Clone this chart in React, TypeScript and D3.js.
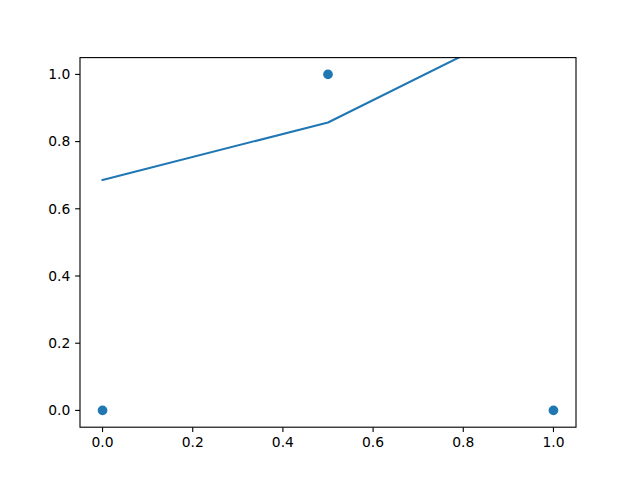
import React from "react";
import * as d3 from "d3";

const pointX = [0, 0.5, 1];
const pointY = [0, 1, 0];
const lineX = [0, 0.5, 1];
const lineY = [0.686, 0.857, 1.19];
const xTicks = [0, 0.2, 0.4, 0.6, 0.8, 1.0];
const yTicks = [0, 0.2, 0.4, 0.6, 0.8, 1.0];

const W = 640, H = 480;
const L = 80, R = 576, T = 57.6, B = 427.2;

export default function App() {
  const x = d3.scaleLinear().domain([-0.05, 1.05]).range([L, R]);
  const y = d3.scaleLinear().domain([-0.05, 1.05]).range([B, T]);
  const line = d3.line<number>().x((_, i) => x(lineX[i])).y((d) => y(d));
  const color = "#1f77b4";
  const fs = 13.89;
  return (
    <svg width={W} height={H} style={{ position: "absolute", left: 0, top: 0, background: "white" }}
      fontFamily="DejaVu Sans">
      <defs>
        <clipPath id="clip">
          <rect x={L} y={T} width={R - L} height={B - T} />
        </clipPath>
      </defs>
      <rect x={0} y={0} width={W} height={H} fill="white" />
      <path d={line(lineY) || ""} fill="none" stroke={color} strokeWidth={2.08}
        clipPath="url(#clip)" strokeLinejoin="round" strokeLinecap="square" />
      {pointX.map((px, i) => (
        <circle key={i} cx={x(px)} cy={y(pointY[i])} r={4.17} fill={color}
          stroke={color} strokeWidth={1.39} />
      ))}
      <rect x={L} y={T} width={R - L} height={B - T} fill="none" stroke="black" strokeWidth={1.11} />
      {xTicks.map((t) => (
        <g key={"x" + t}>
          <line x1={x(t)} x2={x(t)} y1={B} y2={B + 4.86} stroke="black" strokeWidth={1.11} />
          <text x={x(t)} y={B + 4.86 + 4.86} dy="0.76em" textAnchor="middle" fontSize={fs}>
            {t.toFixed(1)}
          </text>
        </g>
      ))}
      {yTicks.map((t) => (
        <g key={"y" + t}>
          <line x1={L} x2={L - 4.86} y1={y(t)} y2={y(t)} stroke="black" strokeWidth={1.11} />
          <text x={L - 4.86 - 4.86} y={y(t)} dy="0.35em" textAnchor="end" fontSize={fs}>
            {t.toFixed(1)}
          </text>
        </g>
      ))}
    </svg>
  );
}
